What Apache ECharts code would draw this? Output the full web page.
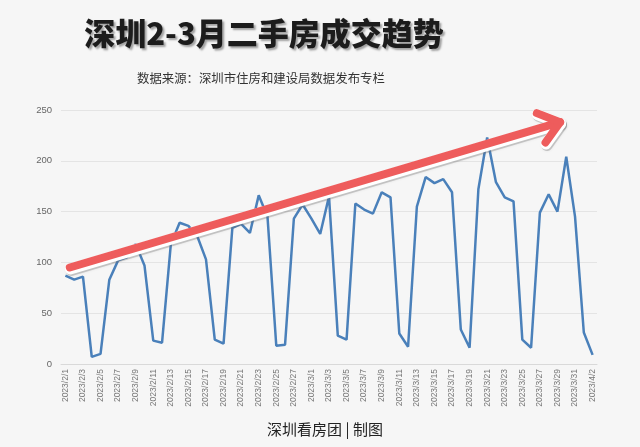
<!DOCTYPE html>
<html><head><meta charset="utf-8">
<script src="https://cdn.jsdelivr.net/npm/echarts@6/dist/echarts.min.js"></script>
<style>html,body{margin:0;padding:0;background:#f6f6f6;}#c{width:640px;height:447px;}</style>
</head><body><div id="c"></div>
<script>
var categories = [
 '2023/2/1','2023/2/2','2023/2/3','2023/2/4','2023/2/5','2023/2/6','2023/2/7','2023/2/8','2023/2/9','2023/2/10',
 '2023/2/11','2023/2/12','2023/2/13','2023/2/14','2023/2/15','2023/2/16','2023/2/17','2023/2/18','2023/2/19','2023/2/20',
 '2023/2/21','2023/2/22','2023/2/23','2023/2/24','2023/2/25','2023/2/26','2023/2/27','2023/2/28',
 '2023/3/1','2023/3/2','2023/3/3','2023/3/4','2023/3/5','2023/3/6','2023/3/7','2023/3/8','2023/3/9','2023/3/10',
 '2023/3/11','2023/3/12','2023/3/13','2023/3/14','2023/3/15','2023/3/16','2023/3/17','2023/3/18','2023/3/19','2023/3/20',
 '2023/3/21','2023/3/22','2023/3/23','2023/3/24','2023/3/25','2023/3/26','2023/3/27','2023/3/28','2023/3/29','2023/3/30','2023/3/31',
 '2023/4/1','2023/4/2'
];
var febValues = [87,83,86,7,10,83,102,105,118,97,23,21,118,139,136,126,103,24,20,134,138,129,166,145,18,19,143,157];
var marValues = [143,128,165,28,24,158,152,148,169,164,30,17,155,184,178,182,169,34,16,172,223,179,164,160,24,16,149,167,150,204,145];
var aprValues = [31,9];
var dealValues = febValues.concat(marValues, aprValues);
var yTicks = {min:0, max:250, interval:50};
// trend arrow endpoints in data units: [category index, value]
var arrowStart = [0.5, 95];
var arrowEnd = [56.3, 238];

var chart = echarts.init(document.getElementById('c'));
chart.setOption({
  backgroundColor:'#f6f6f6',
  animation:false,
  title:[{
    text:'深圳2-3月二手房成交趋势', left:259, top:13, textAlign:'center',
    textStyle:{fontFamily:'Noto Sans CJK SC', fontWeight:900, fontSize:31, color:'#1c1c1c',
      textShadowColor:'rgba(0,0,0,0.35)', textShadowOffsetX:2, textShadowOffsetY:2, textShadowBlur:2}
  },{
    text:'数据来源：深圳市住房和建设局数据发布专栏', left:132, top:67,
    textStyle:{fontFamily:'Noto Sans CJK SC', fontWeight:'normal', fontSize:12.4, color:'#333'}
  },{
    text:'深圳看房团 | 制图', left:320, top:417, textAlign:'center',
    textStyle:{fontFamily:'Noto Sans CJK SC', fontWeight:'normal', fontSize:15, color:'#222'}
  }],
  grid:{left:61, right:43, top:110, bottom:83},
  xAxis:{type:'category', data:categories, boundaryGap:true,
    axisLine:{lineStyle:{color:'#d9d9d9'}}, axisTick:{show:false},
    axisLabel:{rotate:90, interval:1, fontSize:8.5, color:'#777', fontFamily:'Liberation Sans', margin:5}},
  yAxis:{type:'value', min:yTicks.min, max:yTicks.max, interval:yTicks.interval,
    axisLine:{show:false}, axisTick:{show:false},
    axisLabel:{fontSize:9.5, color:'#666', fontFamily:'Liberation Sans', margin:9},
    splitLine:{lineStyle:{color:'#e4e4e4'}}},
  series:[{type:'line', data:dealValues, symbol:'none',
    lineStyle:{color:'#4a80ba', width:2.5}}]
});

function toPx(pt){
  var i0 = Math.floor(pt[0]);
  var a = chart.convertToPixel({gridIndex:0}, [i0, pt[1]]);
  var b = chart.convertToPixel({gridIndex:0}, [i0+1, pt[1]]);
  var f = pt[0]-i0;
  return [a[0]+(b[0]-a[0])*f, a[1]];
}
var s = toPx(arrowStart), e = toPx(arrowEnd);
var ang = Math.atan2(e[1]-s[1], e[0]-s[0]);
var wl = 25, wa = 0.66;
var w1 = [e[0]-wl*Math.cos(ang-wa), e[1]-wl*Math.sin(ang-wa)];
var w2 = [e[0]-wl*Math.cos(ang+wa), e[1]-wl*Math.sin(ang+wa)];
function arrowEls(color, width, dx, dy, extra){
  var sh = [[s[0]+dx,s[1]+dy],[e[0]+dx,e[1]+dy]];
  var hd = [[w1[0]+dx,w1[1]+dy],[e[0]+dx,e[1]+dy],[w2[0]+dx,w2[1]+dy]];
  var st = Object.assign({stroke:color, lineWidth:width, lineCap:'round', lineJoin:'round', fill:null}, extra||{});
  return [
    {type:'polyline', shape:{points:sh}, style:st, z:100},
    {type:'polyline', shape:{points:hd}, style:st, z:100}
  ];
}
var els = []
  .concat(arrowEls('rgba(120,120,120,0.35)', 11, 1.5, 3, {shadowBlur:3, shadowColor:'rgba(0,0,0,0.2)'}))
  .concat(arrowEls('#ffffff', 11, 0.5, 1.5))
  .concat(arrowEls('#ee5c5c', 8, 0, 0));
chart.setOption({graphic:els});
</script>
</body></html>
